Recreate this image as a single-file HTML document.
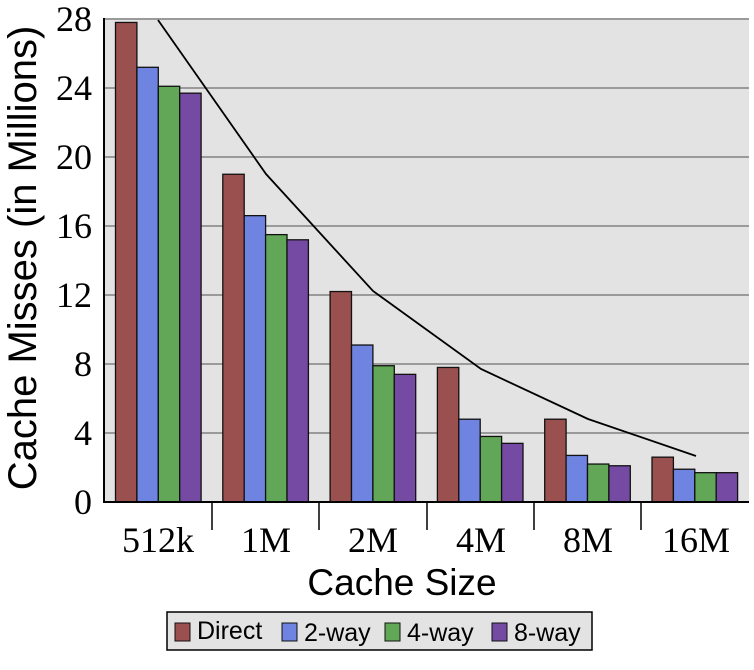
<!DOCTYPE html>
<html><head><style>
html,body{margin:0;padding:0;background:#fff;}
svg{display:block;}
</style></head><body>
<svg width="754" height="670" xmlns="http://www.w3.org/2000/svg">
<rect x="104" y="19" width="645" height="483" fill="#e3e3e3"/>
<g stroke="#9a9a9a" stroke-width="2">
<line x1="104" x2="749" y1="19" y2="19"/>
<line x1="104" x2="749" y1="88" y2="88"/>
<line x1="104" x2="749" y1="157" y2="157"/>
<line x1="104" x2="749" y1="226" y2="226"/>
<line x1="104" x2="749" y1="295" y2="295"/>
<line x1="104" x2="749" y1="364" y2="364"/>
<line x1="104" x2="749" y1="433" y2="433"/>
</g>
<g id="bars" stroke="#111" stroke-width="1.3"></g>
<polyline points="158,20 266,174 373,291 481,369 588,419 696,456" fill="none" stroke="#000" stroke-width="1.8"/>
<line x1="104" y1="18" x2="104" y2="503" stroke="#000" stroke-width="2"/>
<line x1="103" y1="502" x2="749" y2="502" stroke="#000" stroke-width="2"/>
<g stroke="#000" stroke-width="1.5">
<line x1="212" x2="212" y1="502" y2="530"/>
<line x1="319" x2="319" y1="502" y2="530"/>
<line x1="427" x2="427" y1="502" y2="530"/>
<line x1="534" x2="534" y1="502" y2="530"/>
<line x1="641" x2="641" y1="502" y2="530"/>
</g>
<g font-family="Liberation Serif, serif" font-size="36" fill="#000" text-anchor="end">
<text x="92" y="31">28</text><text x="92" y="100">24</text><text x="92" y="169">20</text>
<text x="92" y="238">16</text><text x="92" y="307">12</text><text x="92" y="376">8</text>
<text x="92" y="445">4</text><text x="92" y="514">0</text>
</g>
<g font-family="Liberation Serif, serif" font-size="36" fill="#000" text-anchor="middle">
<text x="158" y="552">512k</text><text x="266" y="552">1M</text><text x="373" y="552">2M</text>
<text x="481" y="552">4M</text><text x="588" y="552">8M</text><text x="696" y="552">16M</text>
</g>
<text x="402" y="595" font-family="Liberation Sans, sans-serif" font-size="37" text-anchor="middle">Cache Size</text>
<text transform="translate(36,258) rotate(-90)" font-family="Liberation Sans, sans-serif" font-size="40" text-anchor="middle">Cache Misses (in Millions)</text>
<rect x="167" y="612" width="425" height="38" fill="#e3e3e3" stroke="#000" stroke-width="1.5"/>
<g stroke="#111" stroke-width="1">
<rect x="175" y="623" width="15" height="18" fill="#9b5050"/>
<rect x="282" y="623" width="15" height="18" fill="#6e84e0"/>
<rect x="385" y="623" width="15" height="18" fill="#62a757"/>
<rect x="492" y="623" width="15" height="18" fill="#754aa3"/>
</g>
<g font-family="Liberation Sans, sans-serif" font-size="25" fill="#000">
<text x="197" y="639">Direct</text><text x="304" y="641">2-way</text>
<text x="407" y="641">4-way</text><text x="514" y="641">8-way</text>
</g>
</svg>
<script>
var d=[[27.8,25.2,24.1,23.7],[19.0,16.6,15.5,15.2],[12.2,9.1,7.9,7.4],[7.8,4.8,3.8,3.4],[4.8,2.7,2.2,2.1],[2.6,1.9,1.7,1.7]];
var c=["#9b5050","#6e84e0","#62a757","#754aa3"];
var g=document.getElementById("bars"),s="";
for(var i=0;i<6;i++)for(var k=0;k<4;k++){var h=d[i][k]*17.25,x=115.5+i*107.3+k*21.4;
s+='<rect x="'+x+'" y="'+(502-h)+'" width="21.4" height="'+h+'" fill="'+c[k]+'"/>';}
g.innerHTML=s;
</script>
</body></html>
